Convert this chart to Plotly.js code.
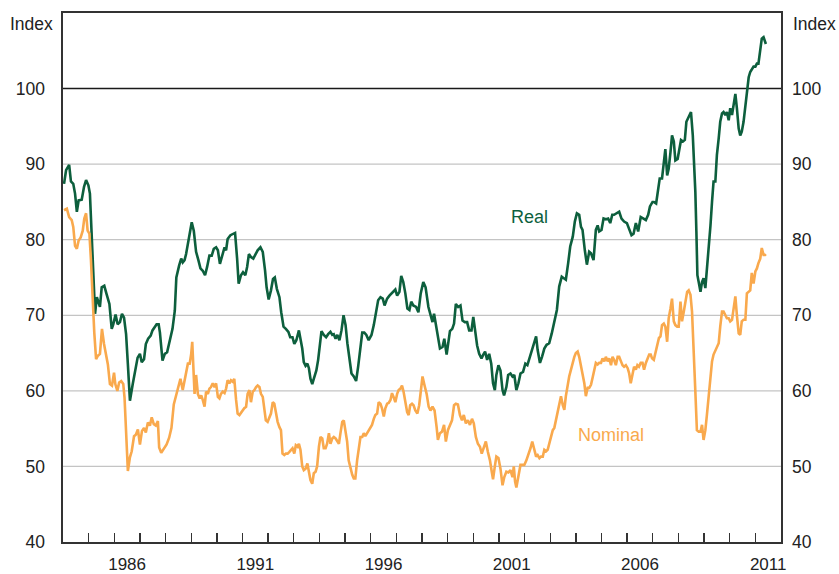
<!DOCTYPE html>
<html>
<head>
<meta charset="utf-8">
<script src="https://cdn.plot.ly/plotly-3.0.1.min.js"></script>
<style>
  html, body { margin: 0; padding: 0; background: #ffffff; }
  #chart { width: 839px; height: 574px; }
</style>
</head>
<body>
<div id="chart"></div>
<script>
// ---- Data (x in decimal years) ----
const realYears = [
  1984.04,1984.12,1984.24,1984.31,1984.40,1984.47,1984.54,1984.61,1984.73,1984.82,1984.90,1984.99,
  1985.05,1985.12,1985.18,1985.25,1985.32,1985.38,1985.44,1985.51,1985.61,1985.70,1985.81,1985.90,1985.96,
  1986.05,1986.13,1986.22,1986.30,1986.38,1986.46,1986.53,1986.61,1986.72,1986.81,1986.91,
  1987.00,1987.07,1987.16,1987.23,1987.32,1987.42,1987.49,1987.58,1987.65,1987.73,1987.78,1987.88,1987.97,
  1988.06,1988.17,1988.27,1988.36,1988.42,1988.53,1988.61,1988.67,1988.74,1988.80,1988.87,1988.95,
  1989.02,1989.10,1989.19,1989.28,1989.36,1989.45,1989.54,1989.62,1989.71,1989.80,1989.88,1989.97,
  1990.04,1990.12,1990.20,1990.30,1990.36,1990.42,1990.53,1990.62,1990.71,1990.79,1990.85,1990.94,
  1991.02,1991.11,1991.18,1991.25,1991.33,1991.42,1991.50,1991.59,1991.70,1991.79,1991.88,1991.94,
  1992.02,1992.11,1992.19,1992.26,1992.34,1992.44,1992.51,1992.60,1992.69,1992.79,1992.86,1992.95,
  1993.02,1993.10,1993.20,1993.26,1993.33,1993.39,1993.46,1993.53,1993.59,1993.65,1993.72,1993.78,1993.88,1993.95,
  1994.02,1994.08,1994.17,1994.26,1994.34,1994.43,1994.50,1994.56,1994.63,1994.70,1994.78,1994.86,1994.94,
  1995.02,1995.09,1995.17,1995.25,1995.34,1995.43,1995.51,1995.59,1995.67,1995.75,1995.83,1995.92,
  1996.03,1996.12,1996.21,1996.29,1996.38,1996.47,1996.54,1996.64,1996.73,1996.81,1996.89,1996.96,
  1997.03,1997.12,1997.19,1997.27,1997.35,1997.43,1997.51,1997.58,1997.66,1997.77,1997.86,1997.95,
  1998.05,1998.14,1998.25,1998.33,1998.41,1998.47,1998.54,1998.61,1998.70,1998.80,1998.87,1998.96,
  1999.02,1999.09,1999.18,1999.25,1999.32,1999.41,1999.50,1999.58,1999.67,1999.76,1999.84,1999.93,
  2000.00,2000.07,2000.15,2000.23,2000.32,2000.39,2000.46,2000.54,2000.62,2000.70,2000.77,2000.84,2000.90,2000.98,
  2001.06,2001.14,2001.20,2001.29,2001.36,2001.45,2001.53,2001.60,2001.68,2001.76,2001.84,2001.94,
  2002.03,2002.11,2002.20,2002.29,2002.38,2002.45,2002.51,2002.60,2002.68,2002.77,2002.86,2002.96,
  2003.06,2003.16,2003.26,2003.35,2003.45,2003.53,2003.61,2003.70,2003.78,2003.88,2003.96,
  2004.04,2004.13,2004.20,2004.26,2004.35,2004.43,2004.52,2004.59,2004.69,2004.78,2004.85,2004.91,
  2005.00,2005.08,2005.17,2005.26,2005.34,2005.42,2005.49,2005.60,2005.69,2005.78,2005.88,2005.99,
  2006.08,2006.17,2006.25,2006.34,2006.43,2006.53,2006.64,2006.73,2006.82,2006.89,2006.99,
  2007.04,2007.13,2007.21,2007.27,2007.36,2007.43,2007.49,2007.56,2007.62,2007.69,2007.75,2007.82,2007.88,2007.97,
  2008.05,2008.10,2008.18,2008.25,2008.31,2008.40,2008.49,2008.56,2008.62,2008.66,2008.70,2008.74,2008.79,2008.86,2008.92,2008.98,
  2009.05,2009.11,2009.18,2009.25,2009.31,2009.37,2009.44,2009.50,2009.57,2009.63,2009.70,2009.76,2009.83,2009.89,2009.96,
  2010.02,2010.09,2010.15,2010.22,2010.28,2010.35,2010.41,2010.47,2010.54,2010.61,2010.67,2010.74,2010.80,2010.86,2010.93,
  2011.00,2011.06,2011.12,2011.19,2011.25,2011.32,2011.38,2011.41
];
const realIndex = [
  87.4,89.2,89.9,87.7,87.4,86.1,83.7,85.2,85.3,87.0,87.9,87.2,
  86.1,80.8,75.0,70.2,72.4,71.7,71.1,73.7,73.9,72.8,71.5,68.2,68.8,
  70.1,68.8,69.1,70.2,69.7,67.5,63.5,58.7,60.9,62.7,64.4,
  64.9,63.8,64.2,66.2,66.9,67.3,68.0,68.4,68.8,68.8,67.7,64.0,64.9,
  65.1,66.6,68.2,70.6,75.0,76.6,77.5,77.0,77.3,78.1,79.5,80.8,
  82.3,81.2,78.4,77.3,76.2,75.9,75.3,76.4,77.9,77.9,78.8,79.0,
  78.6,76.8,77.9,79.0,78.6,80.1,80.6,80.8,80.9,77.5,74.2,75.3,
  75.7,75.3,76.4,78.1,77.7,77.5,78.1,78.6,79.0,78.4,75.9,73.7,
  72.1,73.3,74.8,75.0,73.5,72.4,70.4,68.5,68.2,67.8,67.1,67.1,
  66.2,66.7,68.0,67.1,65.6,63.8,63.3,63.6,63.0,61.6,60.9,61.6,62.7,64.1,
  66.7,67.9,67.4,67.1,67.5,67.8,67.4,67.5,66.9,67.4,66.7,68.0,70.0,
  68.7,66.3,64.1,62.3,61.9,61.3,63.2,65.6,67.7,67.7,67.4,66.7,
  67.4,68.7,70.7,72.0,72.4,72.2,71.3,72.2,72.6,72.9,73.1,73.4,
  72.6,73.1,75.2,74.4,72.9,70.9,70.7,71.8,71.3,71.1,70.4,72.9,
  74.4,73.7,71.1,70.0,69.1,70.2,68.9,67.1,65.6,65.8,66.9,64.8,
  66.0,67.9,68.2,68.9,71.5,71.1,71.3,69.3,69.1,69.1,68.0,68.0,
  69.8,67.8,66.0,64.9,64.3,64.8,65.2,64.1,64.9,63.6,61.0,60.1,62.1,63.4,
  62.7,60.1,59.4,60.5,62.1,62.3,61.9,62.1,60.1,61.0,62.3,62.5,
  63.6,63.4,64.5,65.4,66.5,67.2,65.4,63.7,64.5,65.6,66.1,66.3,
  67.6,69.4,70.7,73.8,75.1,74.9,74.7,76.9,79.1,80.4,82.4,
  83.5,83.3,81.7,81.3,78.6,76.7,78.4,78.2,77.3,81.3,81.9,81.1,
  81.3,82.8,82.7,82.8,82.2,83.3,83.3,83.5,83.7,82.8,82.4,82.2,
  81.5,80.6,80.8,82.2,81.1,83.0,82.8,82.6,83.3,84.4,85.0,
  85.0,84.8,86.8,88.1,88.1,90.1,92.0,88.5,89.4,91.6,93.8,93.0,90.5,90.7,
  92.1,93.2,93.0,93.2,95.6,96.3,96.9,93.8,89.9,86.3,81.1,75.3,74.4,73.1,74.4,74.9,
  73.6,75.8,78.4,81.9,85.0,87.7,87.7,91.2,93.4,95.6,96.7,96.9,96.5,96.9,95.8,
  97.4,96.5,98.0,99.3,97.4,94.7,93.8,94.3,95.6,97.8,100.2,101.5,102.2,102.6,102.9,
  102.9,103.3,103.3,105.3,106.6,106.8,106.2,105.9
];

const nominalYears = [
  1984.04,1984.15,1984.24,1984.34,1984.40,1984.47,1984.54,1984.61,1984.69,1984.77,1984.83,1984.90,1984.96,
  1985.03,1985.09,1985.16,1985.22,1985.29,1985.35,1985.44,1985.52,1985.60,1985.68,1985.75,1985.83,1985.91,1985.99,
  1986.04,1986.12,1986.19,1986.27,1986.35,1986.40,1986.46,1986.53,1986.61,1986.68,1986.77,1986.84,1986.92,
  1987.00,1987.08,1987.16,1987.23,1987.31,1987.39,1987.46,1987.54,1987.62,1987.70,1987.75,1987.83,1987.93,
  1988.04,1988.14,1988.23,1988.32,1988.40,1988.49,1988.58,1988.67,1988.74,1988.80,1988.87,1988.94,
  1989.00,1989.04,1989.09,1989.13,1989.19,1989.26,1989.33,1989.39,1989.45,1989.52,1989.58,1989.65,1989.71,1989.77,1989.84,1989.91,1989.97,
  1990.04,1990.10,1990.16,1990.23,1990.30,1990.36,1990.42,1990.49,1990.55,1990.62,1990.68,1990.75,1990.81,1990.88,1990.94,
  1991.01,1991.07,1991.14,1991.20,1991.27,1991.33,1991.40,1991.46,1991.53,1991.59,1991.66,1991.72,1991.79,1991.85,1991.91,1991.98,
  1992.05,1992.11,1992.18,1992.24,1992.30,1992.37,1992.44,1992.50,1992.56,1992.63,1992.69,1992.76,1992.82,1992.89,1992.95,
  1993.02,1993.08,1993.15,1993.20,1993.26,1993.33,1993.39,1993.46,1993.53,1993.59,1993.65,1993.72,1993.78,1993.85,1993.91,1993.98,
  1994.04,1994.11,1994.17,1994.24,1994.30,1994.37,1994.43,1994.50,1994.56,1994.63,1994.70,1994.76,1994.82,1994.89,1994.95,
  1995.02,1995.08,1995.14,1995.21,1995.28,1995.34,1995.40,1995.47,1995.53,1995.60,1995.67,1995.73,1995.79,1995.86,1995.92,1995.99,
  1996.05,1996.12,1996.18,1996.25,1996.31,1996.38,1996.44,1996.51,1996.57,1996.64,1996.70,1996.77,1996.83,1996.89,1996.96,
  1997.03,1997.09,1997.16,1997.22,1997.28,1997.35,1997.42,1997.48,1997.54,1997.61,1997.67,1997.74,1997.82,1997.89,1997.97,
  1998.02,1998.10,1998.18,1998.26,1998.33,1998.41,1998.49,1998.57,1998.62,1998.70,1998.78,1998.86,1998.93,
  1999.01,1999.09,1999.17,1999.25,1999.32,1999.40,1999.48,1999.56,1999.63,1999.71,1999.79,1999.87,1999.95,
  2000.02,2000.10,2000.18,2000.26,2000.33,2000.41,2000.49,2000.57,2000.65,2000.72,2000.77,2000.84,2000.90,2000.98,
  2001.06,2001.14,2001.21,2001.29,2001.37,2001.45,2001.53,2001.58,2001.63,2001.68,2001.76,2001.84,2001.91,2001.99,
  2002.07,2002.15,2002.23,2002.30,2002.38,2002.45,2002.51,2002.58,2002.64,2002.71,2002.77,2002.84,2002.90,2002.96,
  2003.03,2003.10,2003.16,2003.23,2003.29,2003.35,2003.42,2003.49,2003.55,2003.61,2003.68,2003.74,2003.81,2003.88,2003.94,
  2004.00,2004.07,2004.13,2004.20,2004.26,2004.33,2004.39,2004.46,2004.52,2004.59,2004.65,2004.72,2004.78,2004.85,2004.91,2004.98,
  2005.04,2005.11,2005.17,2005.24,2005.30,2005.37,2005.43,2005.49,2005.56,2005.63,2005.69,2005.76,2005.82,2005.88,2005.95,
  2006.02,2006.08,2006.14,2006.21,2006.27,2006.34,2006.40,2006.46,2006.53,2006.60,2006.66,2006.73,2006.79,2006.86,2006.92,2006.97,
  2007.04,2007.11,2007.17,2007.24,2007.30,2007.36,2007.43,2007.49,2007.56,2007.62,2007.69,2007.75,2007.82,2007.88,2007.95,
  2008.01,2008.08,2008.14,2008.21,2008.27,2008.34,2008.40,2008.47,2008.53,2008.60,2008.66,2008.72,2008.79,2008.86,2008.92,2008.98,
  2009.05,2009.11,2009.18,2009.25,2009.31,2009.37,2009.44,2009.50,2009.57,2009.63,2009.70,2009.76,2009.83,2009.89,2009.96,
  2010.02,2010.09,2010.15,2010.22,2010.28,2010.35,2010.41,2010.47,2010.54,2010.61,2010.67,2010.74,2010.80,2010.86,2010.93,
  2011.00,2011.06,2011.12,2011.19,2011.25,2011.32,2011.38,2011.41
];
const nominalIndex = [
  83.9,84.1,83.0,82.6,81.7,79.2,78.8,79.9,80.3,81.2,82.8,83.5,81.2,
  80.8,77.3,71.9,67.7,64.2,64.6,64.9,68.2,66.2,64.6,63.5,60.9,60.7,62.4,
  60.9,60.0,61.1,61.3,60.9,59.1,54.2,49.4,51.2,52.0,54.0,54.2,54.9,
  52.9,54.7,55.1,54.5,55.8,55.4,56.5,55.6,55.4,56.0,52.5,51.8,52.3,
  52.9,53.8,55.1,58.2,59.3,60.4,61.6,60.1,61.4,62.3,63.6,63.6,
  64.9,66.5,63.6,59.6,62.1,59.6,59.0,59.4,58.8,57.9,59.9,59.6,60.3,60.5,61.0,60.5,61.0,
  59.2,59.0,59.6,59.9,59.7,60.3,61.4,61.0,61.4,61.2,61.6,58.8,57.0,56.8,57.1,
  57.4,57.7,57.9,59.6,60.1,58.5,59.9,60.1,60.5,60.7,60.5,59.6,59.2,57.4,56.1,55.9,
  56.6,57.0,58.5,58.3,57.2,55.9,55.2,54.8,51.7,51.5,51.7,51.7,51.9,52.2,52.4,
  51.7,52.8,52.6,53.0,52.2,50.0,49.5,49.7,50.4,49.3,48.2,47.7,49.1,49.3,50.0,52.6,
  53.9,53.7,52.4,52.4,53.0,54.4,53.0,53.7,53.9,53.7,53.3,53.0,54.4,55.9,56.1,
  54.8,53.3,50.8,49.7,48.9,48.4,48.4,50.8,52.2,53.9,53.9,54.4,54.0,54.4,54.8,55.2,
  55.5,56.3,56.8,57.0,58.5,58.3,57.7,56.6,57.7,58.3,58.4,58.8,59.7,59.2,58.5,
  59.6,60.1,60.3,60.7,59.9,58.5,57.2,56.8,58.1,58.3,58.1,57.4,57.0,58.1,61.0,
  61.9,60.7,59.6,57.9,57.4,57.9,57.4,55.2,53.5,54.4,54.6,55.5,53.3,
  54.8,55.5,56.1,58.1,58.3,58.2,56.8,56.1,56.8,55.7,56.1,55.5,56.3,
  55.7,53.9,53.0,52.6,51.7,52.6,53.3,51.9,50.8,49.3,48.3,50.0,51.3,51.1,
  49.7,47.5,48.6,49.3,49.2,49.5,48.6,50.0,48.0,47.2,48.6,50.2,50.2,50.2,
  50.8,51.5,52.4,53.3,52.2,51.3,51.5,51.1,51.3,51.3,52.2,52.0,52.2,53.1,
  54.0,54.8,55.1,56.2,57.5,58.4,59.3,58.1,57.5,59.3,60.8,61.9,62.8,63.9,64.5,
  65.0,65.2,64.5,63.2,61.9,61.0,59.3,60.4,60.4,60.8,61.7,63.0,63.7,63.5,63.7,63.7,
  64.3,63.9,64.5,63.9,64.3,63.4,64.5,64.1,63.4,64.5,64.5,63.9,63.4,63.2,63.4,
  63.0,62.3,61.0,62.3,63.2,62.8,63.4,63.2,63.7,63.7,62.8,63.7,64.3,64.8,64.8,64.3,
  64.1,65.0,65.9,67.0,67.2,68.7,68.9,68.5,66.5,69.6,70.9,72.2,69.2,68.7,68.5,
  68.5,71.8,69.2,70.5,71.8,73.1,73.3,72.7,70.5,65.6,59.9,54.8,54.6,54.6,55.5,53.5,
  54.8,56.8,59.0,61.2,63.9,64.8,65.4,65.9,66.3,68.5,70.5,70.5,70.0,69.6,69.6,
  69.2,69.4,70.9,72.5,70.0,67.6,67.4,69.2,69.4,69.4,72.9,73.1,73.3,75.6,74.2,
  75.8,76.2,76.9,77.5,78.9,78.0,78.0,78.1
];

// Axis ticks and labels
const yTicks = [40, 50, 60, 70, 80, 90, 100];
const yearTickLabels = ['1986', '1991', '1996', '2001', '2006', '2011'];
const yearBoundaries = [];
for (let y = 1985; y <= 2011; y++) yearBoundaries.push(y);
const labelPositions = yearTickLabels.map(s => Number(s) + 0.5);

const seriesNames = ['Real', 'Nominal'];
const realColor = '#0d5f3d';
const nominalColor = '#f9a94d';

const FONT = 'Arial, "Liberation Sans", Helvetica, sans-serif';
const TXT = '#222222';

const traces = [
  {
    x: realYears, y: realIndex, type: 'scatter', mode: 'lines', name: seriesNames[0],
    line: { color: realColor, width: 2.6 }, hoverinfo: 'skip'
  },
  {
    x: nominalYears, y: nominalIndex, type: 'scatter', mode: 'lines', name: seriesNames[1],
    line: { color: nominalColor, width: 2.6 }, hoverinfo: 'skip'
  },
  {
    x: [], y: [], xaxis: 'x2', yaxis: 'y2', type: 'scatter', mode: 'lines',
    showlegend: false, hoverinfo: 'skip'
  }
];

// Horizontal reference lines: grey gridlines, black line at 100
const gridShapes = yTicks.filter(v => v > 40).map(v => ({
  type: 'line', xref: 'paper', x0: 0, x1: 1, yref: 'y', y0: v, y1: v,
  line: { color: v === 100 ? '#1a1a1a' : '#c4c4c4', width: v === 100 ? 1.5 : 1.3 },
  layer: 'below'
}));

const layout = {
  width: 839, height: 574,
  margin: { l: 63, r: 58, t: 13, b: 32, pad: 0 },
  paper_bgcolor: '#ffffff', plot_bgcolor: '#ffffff',
  showlegend: false,
  font: { family: FONT, size: 17.5, color: TXT },
  xaxis: {
    range: [1984, 2012], tickvals: yearBoundaries, ticktext: yearBoundaries.map(() => ''),
    ticks: 'inside', ticklen: 9, tickwidth: 1.3, tickcolor: '#333333',
    showgrid: false, zeroline: false, showline: true, linecolor: '#333333', linewidth: 1.6,
    mirror: true, fixedrange: true, automargin: false
  },
  xaxis2: {
    overlaying: 'x', anchor: 'y', side: 'bottom', range: [1984, 2012],
    tickvals: labelPositions, ticktext: yearTickLabels, ticks: '',
    showgrid: false, zeroline: false, showline: false, fixedrange: true,
    ticklabelstandoff: 10, automargin: false,
    tickfont: { family: FONT, size: 17, color: TXT }
  },
  yaxis: {
    range: [40, 110], tickvals: yTicks, ticks: '',
    showgrid: false, zeroline: false, showline: true, linecolor: '#333333', linewidth: 1.6, mirror: true,
    ticklabelstandoff: 13, fixedrange: true, automargin: false,
    tickfont: { family: FONT, size: 17.5, color: TXT }
  },
  yaxis2: {
    overlaying: 'y', anchor: 'x', side: 'right', range: [40, 110], tickvals: yTicks, ticks: '',
    showgrid: false, zeroline: false, showline: false,
    ticklabelstandoff: 10, fixedrange: true, automargin: false,
    tickfont: { family: FONT, size: 17.5, color: TXT }
  },
  shapes: gridShapes,
  annotations: [
    { text: 'Index', xref: 'paper', x: 0, xanchor: 'right', xshift: -8,
      yref: 'y', y: 108.55, yanchor: 'middle', showarrow: false,
      font: { family: FONT, size: 17.5, color: TXT } },
    { text: 'Index', xref: 'paper', x: 1, xanchor: 'left', xshift: 10,
      yref: 'y', y: 108.55, yanchor: 'middle', showarrow: false,
      font: { family: FONT, size: 17.5, color: TXT } },
    { text: seriesNames[0], xref: 'x', x: 2002.18, yref: 'y', y: 83.0,
      xanchor: 'center', yanchor: 'middle', showarrow: false,
      font: { family: FONT, size: 18, color: realColor } },
    { text: seriesNames[1], xref: 'x', x: 2005.37, yref: 'y', y: 54.2,
      xanchor: 'center', yanchor: 'middle', showarrow: false,
      font: { family: FONT, size: 18, color: nominalColor } }
  ]
};

Plotly.newPlot('chart', traces, layout, { staticPlot: true, displayModeBar: false });
</script>
</body>
</html>
